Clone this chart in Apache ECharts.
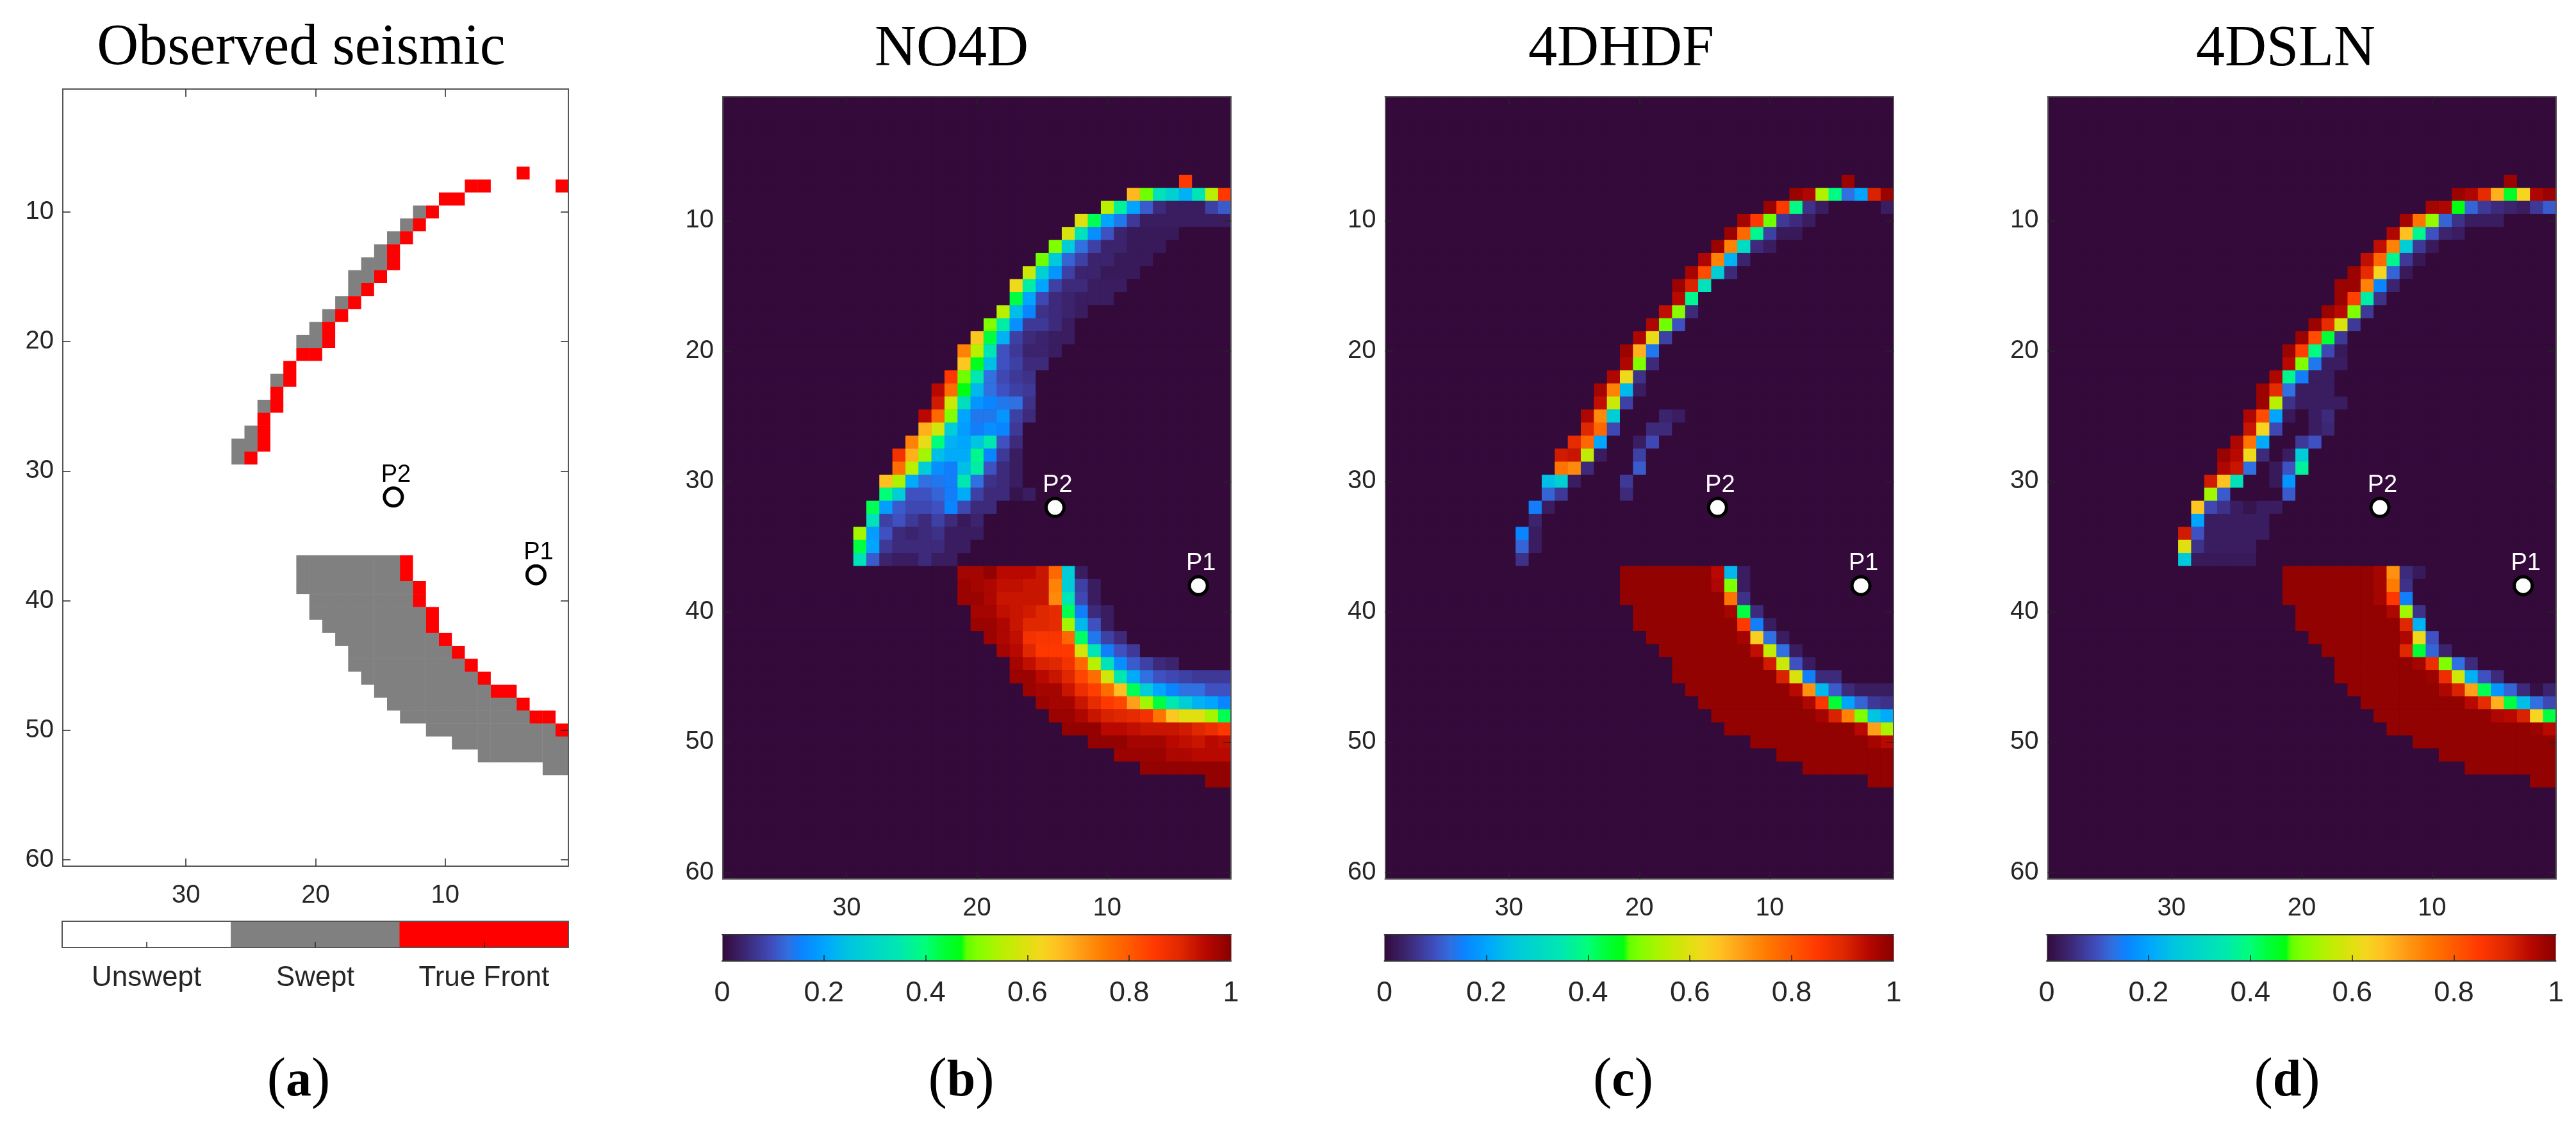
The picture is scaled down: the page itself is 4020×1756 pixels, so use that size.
<!DOCTYPE html>
<html><head><meta charset="utf-8">
<style>html,body{margin:0;padding:0;background:#fff}#c{width:4020px;height:1756px}</style>
<script src="https://cdn.jsdelivr.net/npm/echarts@6/dist/echarts.min.js"></script>
</head><body><div id="c"></div>
<script>
// Row format: [row, firstColumn (columns then count downward), ...cell values]
const observedRows = [
[7,4,2],[8,8,2,2],[8,1,2],[9,10,2,2],[10,12,1,2],[11,13,1,2],[12,14,1,2],[13,15,1,2],[14,16,1,1,2],[15,17,1,1,2],
[16,17,1,2],[17,18,1,2],[18,19,1,2],[19,20,1,2],[20,21,1,1,2],[21,21,2,2],[22,22,2],[23,23,1,2],[24,23,2],[25,24,1,2],
[26,24,2],[27,25,1,2],[28,26,1,1,2],[29,26,1,2],
[37,21,1,1,1,1,1,1,1,1,2],[38,21,1,1,1,1,1,1,1,1,2],[39,21,1,1,1,1,1,1,1,1,1,2],[40,20,1,1,1,1,1,1,1,1,2],
[41,20,1,1,1,1,1,1,1,1,1,2],[42,19,1,1,1,1,1,1,1,1,2],[43,18,1,1,1,1,1,1,1,1,2],[44,17,1,1,1,1,1,1,1,1,2],
[45,17,1,1,1,1,1,1,1,1,1,2],[46,16,1,1,1,1,1,1,1,1,1,2],[47,15,1,1,1,1,1,1,1,1,1,2,2],[48,14,1,1,1,1,1,1,1,1,1,1,2],
[49,13,1,1,1,1,1,1,1,1,1,1,2,2],[50,11,1,1,1,1,1,1,1,1,1,1,2],[51,9,1,1,1,1,1,1,1,1,1],[52,7,1,1,1,1,1,1,1],[53,2,1,1]
];
const no4dRows = [
[7,4,.85],[8,8,.67,.49,.33,.28,.22,.34,.55,.85],[9,10,.55,.37,.2,.11,.05,.03,.03,.03,.08,.11],
[10,12,.6,.42,.2,.14,.07,.03,.03,.03,.03,.03,.03,.03],[11,13,.59,.33,.17,.1,.04,.025,.025,.025,.025],
[12,14,.5,.27,.13,.08,.04,.04,.025,.025,.025],[13,15,.49,.26,.12,.08,.04,.04,.025,.025,.025],
[14,16,.57,.28,.18,.08,.04,.04,.025,.025,.025],[15,17,.62,.36,.2,.08,.05,.05,.03,.03,.03],
[16,17,.43,.2,.09,.05,.04,.03,.03,.03],[17,18,.55,.24,.16,.06,.05,.04,.03],[18,19,.5,.36,.17,.07,.07,.05,.03],
[19,20,.65,.43,.22,.08,.05,.04,.03,.03],[20,21,.74,.55,.34,.1,.07,.04,.04,.03],[21,21,.65,.46,.24,.1,.08,.05,.05],
[22,22,.85,.49,.35,.13,.09,.07,.06],[23,23,.95,.77,.47,.23,.13,.1,.08,.07],[24,23,.92,.57,.32,.18,.16,.14,.13,.06],
[25,24,.95,.78,.5,.2,.14,.14,.18,.08,.05],[26,24,.68,.58,.27,.19,.15,.17,.16,.07],
[27,25,.74,.61,.4,.22,.2,.25,.35,.1,.05],[28,26,.87,.68,.53,.24,.21,.21,.38,.16,.07,.03],
[29,26,.77,.55,.27,.17,.15,.24,.36,.1,.05,.03],[30,27,.66,.54,.21,.13,.14,.15,.35,.13,.06,.05,.03],
[31,27,.4,.27,.1,.1,.12,.15,.21,.08,.05,.05,.015,.03],[32,28,.42,.19,.11,.09,.09,.1,.16,.09,.05,.05],
[33,28,.33,.08,.1,.07,.05,.08,.05,.025,.04],[34,29,.53,.19,.1,.05,.04,.05,.06,.03,.03,.03],
[35,29,.43,.2,.07,.05,.05,.05,.05,.03,.03],[36,29,.33,.11,.04,.03,.03,.05,.03,.03],
[37,21,.97,.97,.99,.95,.95,.95,.93,.78,.27,.03],[38,21,.98,.97,.96,.94,.94,.93,.93,.74,.27,.08,.03],
[39,21,.98,.98,.96,.93,.93,.93,.93,.73,.34,.09,.03],[40,20,.97,.97,.94,.93,.92,.9,.89,.42,.15,.05,.03],
[41,20,.98,.98,.96,.93,.9,.9,.89,.53,.23,.1,.03],[42,19,.98,.96,.94,.87,.86,.86,.78,.41,.14,.08,.05],
[43,18,.97,.95,.9,.85,.85,.85,.58,.34,.15,.1,.07],[44,17,.97,.94,.91,.9,.87,.78,.55,.33,.17,.11,.08,.05,.04],
[45,17,.98,.98,.95,.93,.9,.83,.77,.58,.35,.21,.13,.1,.09,.08,.07,.07,.07],
[46,16,.98,.97,.97,.93,.88,.84,.77,.66,.42,.27,.2,.16,.13,.13,.1,.1],
[47,15,.98,.97,.97,.93,.89,.85,.83,.7,.53,.43,.35,.27,.22,.2,.16],
[48,14,.98,.98,.96,.93,.91,.9,.89,.87,.76,.65,.6,.6,.53,.42],
[49,13,.99,.99,.99,.95,.95,.94,.93,.93,.93,.92,.9,.88,.85],
[50,11,.99,.99,.99,.97,.97,.97,.95,.94,.93,.95,.94],[51,9,.98,.98,.98,.98,.96,.96,.95,.95,.95],
[52,7,.99,.99,.99,.99,.99,.99,.99],[53,2,.99,.99]
];
const hdfRows = [
[7,4,.98],[8,8,.98,.96,.54,.39,.13,.2,.91,.98],[9,10,.98,.85,.39,.06,.03],[9,1,.03],[10,12,.97,.85,.49,.07,.05,.03],
[11,13,.98,.78,.38,.08,.025,.025],[12,14,.98,.74,.31,.05,.03],[13,15,.96,.74,.22,.04],[14,16,.97,.82,.27,.05],
[15,17,.98,.91,.33],[16,17,.95,.38],[17,18,.94,.51,.05],[18,19,.96,.49,.1],[19,20,.96,.61,.08],[20,21,.98,.68,.14],
[21,21,.96,.5,.05],[22,22,.96,.62,.06],[23,23,.97,.74,.23,.03],[24,23,.94,.57,.08],[25,24,.96,.73,.27],[25,18,.04,.03],
[26,24,.9,.78,.09],[26,19,.05,.05],[27,25,.89,.78,.2],[27,20,.03,.09],[28,26,.92,.93,.56,.03],[28,20,.08],
[29,26,.76,.73,.05],[29,20,.11],[30,27,.24,.28,.03],[30,21,.07],[31,27,.12,.07],[31,21,.05],[32,28,.15,.03],[33,28,.04],
[34,29,.16,.03],[35,29,.12,.03],[36,29,.06],
[37,21,.99,.99,.99,.99,.99,.99,.99,.95,.23,.03],[38,21,.99,.99,.99,.99,.99,.99,.99,.96,.5,.03],
[39,21,.99,.99,.99,.99,.99,.99,.99,.99,.76,.06],[40,20,.99,.99,.99,.99,.99,.99,.99,.97,.43,.05],
[41,20,.99,.99,.99,.99,.99,.99,.99,.99,.85,.15,.03],[42,19,.99,.99,.99,.99,.99,.99,.99,.97,.64,.13,.03],
[43,18,.99,.99,.99,.99,.99,.99,.99,.94,.56,.13,.03],[44,17,.99,.99,.99,.99,.99,.99,.99,.92,.57,.1,.03],
[45,17,.99,.99,.99,.99,.99,.99,.99,.99,.91,.59,.15,.05,.05],
[46,16,.99,.99,.99,.99,.99,.99,.99,.99,.95,.72,.23,.11,.05,.03,.03,.03],
[47,15,.99,.99,.99,.99,.99,.99,.99,.99,.96,.86,.44,.2,.12,.07,.06],
[48,14,.99,.99,.99,.99,.99,.99,.99,.99,.97,.91,.74,.5,.25,.21],
[49,13,.99,.99,.99,.99,.99,.99,.99,.99,.99,.99,.95,.7,.54],
[50,11,.99,.99,.99,.99,.99,.99,.99,.99,.99,.97,.95],[51,9,.99,.99,.99,.99,.99,.99,.99,.99,.99],
[52,7,.99,.99,.99,.99,.99,.99,.99],[53,2,.99,.99]
];
const slnRows = [
[7,4,.98],[8,8,.98,.96,.89,.68,.45,.63,.96,.98],[9,10,.97,.96,.47,.12,.07,.05,.04,.03,.07,.11],
[10,12,.97,.76,.52,.12,.06,.03,.03,.03],[11,13,.96,.66,.38,.1,.04,.03],[12,14,.94,.74,.27,.07,.025],
[13,15,.94,.78,.38,.07,.02],[14,16,.98,.89,.63,.12,.025],[15,17,.98,.98,.74,.16,.04],[16,17,.98,.84,.36,.06],
[17,18,.98,.95,.5,.07],[18,19,.98,.89,.59,.07],[19,20,.98,.82,.44,.07],[20,21,.98,.84,.39,.09,.025],
[21,21,.95,.5,.14,.03,.03],[22,22,.96,.38,.15,.03,.03],[23,23,.98,.89,.13,.03,.03,.03],
[24,23,.98,.55,.06,.03,.03,.03,.03],[25,24,.96,.82,.2,.025],[25,19,.03,.05],[26,24,.93,.63,.09],[26,19,.03,.045],
[27,25,.96,.76,.21],[27,20,.07,.1],[28,26,.98,.95,.62,.05],[28,21,.03,.27],[29,26,.96,.93,.13],[29,22,.025,.1,.37],
[30,27,.92,.66,.33],[30,22,.025,.18],[31,27,.53,.11],[31,21,.11],[32,28,.65,.09,.06,.03,.015,.03,.03],
[33,28,.2,.03,.03,.03,.03,.03],[34,29,.92,.1,.03,.03,.03,.03,.03],[35,29,.6,.06,.03,.03,.03,.03],[36,29,.26,.025,.025,.025,.025,.025],
[37,21,.99,.99,.99,.99,.99,.99,.99,.97,.72,.05,.025],[38,21,.99,.99,.99,.99,.99,.99,.99,.97,.75,.06],
[39,21,.99,.99,.99,.99,.99,.99,.99,.97,.85,.15],[40,20,.99,.99,.99,.99,.99,.99,.99,.96,.53,.06],
[41,20,.99,.99,.99,.99,.99,.99,.99,.99,.9,.22],[42,19,.99,.99,.99,.99,.99,.99,.99,.96,.62,.1],
[43,18,.99,.99,.99,.99,.99,.99,.9,.44,.12,.04],[44,17,.99,.99,.99,.99,.99,.99,.97,.88,.5,.13,.05],
[45,17,.99,.99,.99,.99,.99,.99,.99,.98,.88,.58,.22,.1,.05],
[46,16,.99,.99,.99,.99,.99,.99,.99,.96,.91,.7,.42,.18,.12,.05,.01,.04],
[47,15,.99,.99,.99,.99,.99,.99,.99,.99,.95,.89,.68,.43,.24,.13,.09],
[48,14,.99,.99,.99,.99,.99,.99,.99,.99,.99,.96,.95,.91,.63,.43],
[49,13,.99,.99,.99,.99,.99,.99,.99,.99,.99,.99,.99,.98,.95],
[50,11,.99,.99,.99,.99,.99,.99,.99,.99,.99,.99,.99],[51,9,.99,.99,.99,.99,.99,.99,.99,.99,.99],
[52,7,.99,.99,.99,.99,.99,.99,.99],[53,2,.99,.99]
];
const xTickLabels = [10,20,30];
const yTickLabels = [10,20,30,40,50,60];
const colorbarTicks = [0,.2,.4,.6,.8,1];
const legendLabels = ['Unswept','Swept','True Front'];
const legendCodes = [0,1,2];
const pointNames = ['P1','P2'];
const pointCols = [3,14];
const pointRows = [38,32];
const panelTitles = ['Observed seismic','NO4D','4DHDF','4DSLN'];
const panelLetters = ['a','b','c','d'];

const NCOL = 39, NROW = 60;
const colCats = Array.from({length:NCOL},(_,i)=>String(i+1));
const rowCats = Array.from({length:NROW},(_,i)=>String(i+1));

const jetStops = [[0,'#330a3a'],[.05,'#3d2a7a'],[.1,'#3f50c0'],[.13,'#3070e0'],[.155,'#0a82ff'],[.2,'#00a5ff'],[.25,'#00c5e0'],
[.3,'#00d8c8'],[.35,'#00e8b0'],[.4,'#00ff78'],[.43,'#00ff40'],[.47,'#00ff10'],[.48,'#60ff00'],[.5,'#80ff00'],[.55,'#b8f000'],[.6,'#e0e010'],
[.63,'#f5d520'],[.66,'#ffc020'],[.7,'#ffa018'],[.75,'#ff7a00'],[.8,'#ff5a00'],[.85,'#ff3800'],[.9,'#e02800'],[.95,'#b80800'],[1,'#880000']];
function hex(c){return [1,3,5].map(i=>parseInt(c.substr(i,2),16));}
function rampColors(n){
  const out=[];
  for(let i=0;i<n;i++){const t=i/(n-1);let k=0;while(k<jetStops.length-2&&jetStops[k+1][0]<t)k++;
    const a=jetStops[k],b=jetStops[k+1],f=Math.min(1,Math.max(0,(t-a[0])/(b[0]-a[0])));
    const ca=hex(a[1]),cb=hex(b[1]);
    out.push('rgb('+ca.map((v,j)=>Math.round(v+(cb[j]-v)*f)).join(',')+')');}
  return out;
}
function toCells(rows){
  const m={};
  rows.forEach(r=>{for(let i=2;i<r.length;i++){m[(r[1]-(i-2))+'_'+r[0]]=r[i];}});
  const out=[];
  for(let c=1;c<=NCOL;c++)for(let r=1;r<=NROW;r++){out.push([c-1,r-1,m[c+'_'+r]||0]);}
  return out;
}

const TXT='#262626', FRAME='#565656', SERIF='"Liberation Serif", serif', SANS='"Liberation Sans", Arial, sans-serif';
const panels=[
 {l:98,r:887,t:139,b:1352,rows:observedRows,txt:'#000',bg:'#fff'},
 {l:1128,r:1921,t:151,b:1372,rows:no4dRows,txt:'#fff',bg:'#330a3a',cb:[1127,1921,1459,1500]},
 {l:2161.5,r:2955,t:151,b:1372,rows:hdfRows,txt:'#fff',bg:'#330a3a',cb:[2160.5,2955,1459,1500]},
 {l:3195.5,r:3988.5,t:151,b:1372,rows:slnRows,txt:'#fff',bg:'#330a3a',cb:[3194,3988.5,1459,1500]}
];
const titleX=[465,1480,2525,3562], titleTop=[26,28,28,28];
const capX=[461,1495,2528,3564];

const grid=[],xAxis=[],yAxis=[],series=[],visualMap=[],title=[];
const lineStyle={color:FRAME,width:2};
const keep10=(i,v)=>xTickLabels.includes(+v);
const keepY=(i,v)=>yTickLabels.includes(+v);
panels.forEach((p,k)=>{
  grid.push({show:true,backgroundColor:p.bg,borderWidth:0,left:p.l,top:p.t,width:p.r-p.l,height:p.b-p.t,containLabel:false});
  const base={type:'category',data:colCats,inverse:true,gridIndex:k,z:10,silent:true,axisLine:{show:true,lineStyle,onZero:false},
    splitLine:{show:false}};
  xAxis.push(Object.assign({},base,{position:'bottom',axisTick:{show:true,inside:true,length:12,alignWithLabel:true,interval:keep10,lineStyle:{color:TXT,width:1.5}},
    axisLabel:{show:true,interval:keep10,margin:26,fontSize:40,fontFamily:SANS,color:TXT}}));
  xAxis.push(Object.assign({},base,{position:'top',axisTick:{show:true,inside:true,length:12,alignWithLabel:true,interval:keep10,lineStyle:{color:TXT,width:1.5}},axisLabel:{show:false}}));
  const ybase={type:'category',data:rowCats,inverse:true,gridIndex:k,z:10,silent:true,axisLine:{show:true,lineStyle,onZero:false},splitLine:{show:false}};
  yAxis.push(Object.assign({},ybase,{position:'left',axisTick:{show:true,inside:true,length:12,alignWithLabel:true,interval:keepY,lineStyle:{color:TXT,width:1.5}},
    axisLabel:{show:true,interval:keepY,margin:14,fontSize:40,fontFamily:SANS,color:TXT}}));
  yAxis.push(Object.assign({},ybase,{position:'right',axisTick:{show:true,inside:true,length:12,alignWithLabel:true,interval:keepY,lineStyle:{color:TXT,width:1.5}},axisLabel:{show:false}}));
  series.push({type:'heatmap',name:panelTitles[k],xAxisIndex:2*k,yAxisIndex:2*k,data:toCells(p.rows),progressive:0,silent:true,animation:false,emphasis:{disabled:true}});
  series.push({type:'scatter',name:panelTitles[k]+' points',xAxisIndex:2*k,yAxisIndex:2*k,z:6,silent:true,symbol:'circle',symbolSize:28,
    itemStyle:{color:'#fff',borderColor:'#000',borderWidth:5,opacity:1},
    data:pointNames.map((n,i)=>({name:n,value:[pointCols[i]-1,pointRows[i]-1]})),
    label:{show:true,position:'top',distance:-1,offset:[4,0],formatter:'{b}',fontSize:38,fontFamily:SANS,color:p.txt}});
  title.push({text:panelTitles[k],left:titleX[k],top:titleTop[k],textAlign:'center',textStyle:{fontFamily:SERIF,fontSize:90,fontWeight:'normal',color:'#000'}});
  title.push({text:'{p|(}{b|'+panelLetters[k]+'}{p|)}',left:capX[k],top:1640,textAlign:'center',
    textStyle:{fontWeight:'normal',rich:{p:{fontFamily:SERIF,fontSize:88,fontWeight:'normal',color:'#000'},b:{fontFamily:SERIF,fontSize:80,fontWeight:'bold',color:'#000'}}}});
});
// panel (a) legend
const legendSeriesIdx=series.length;
{
  const g=grid.length;
  grid.push({left:97,top:1438,width:790,height:41,containLabel:false});
  xAxis.push({type:'category',data:legendLabels,gridIndex:g,position:'bottom',z:10,silent:true,axisLine:{show:true,lineStyle,onZero:false},
    axisTick:{show:true,inside:true,length:9,alignWithLabel:true,lineStyle:{color:TXT,width:1.5}},
    axisLabel:{show:true,interval:0,margin:26,fontSize:44,fontFamily:SANS,color:TXT}});
  xAxis.push({type:'category',data:legendLabels,gridIndex:g,position:'top',z:10,silent:true,axisLine:{show:true,lineStyle,onZero:false},axisTick:{show:false},axisLabel:{show:false}});
  yAxis.push({type:'category',data:['bar'],gridIndex:g,position:'left',z:10,silent:true,axisLine:{show:true,lineStyle,onZero:false},axisTick:{show:false},axisLabel:{show:false}});
  yAxis.push({type:'category',data:['bar'],gridIndex:g,position:'right',z:10,silent:true,axisLine:{show:true,lineStyle,onZero:false},axisTick:{show:false},axisLabel:{show:false}});
  series.push({type:'heatmap',name:'Legend',xAxisIndex:2*g,yAxisIndex:2*g,data:legendCodes.map((v,i)=>[i,0,v]),progressive:0,silent:true,animation:false,emphasis:{disabled:true}});
}
visualMap.push({type:'piecewise',show:false,seriesIndex:[0,legendSeriesIdx],dimension:2,
  pieces:[{value:0,color:'#ffffff'},{value:1,color:'#808080'},{value:2,color:'#ff0000'}]});
// panels (b)-(d) colorbars: continuous visualMap bars with their own value axes for ticks and labels
const ramp=rampColors(201);
panels.forEach((p,k)=>{
  if(!p.cb)return;
  const [l,r,t,b]=p.cb, g=grid.length;
  grid.push({left:l,top:t,width:r-l,height:b-t,containLabel:false});
  xAxis.push({type:'value',min:colorbarTicks[0],max:colorbarTicks[colorbarTicks.length-1],interval:colorbarTicks[1],gridIndex:g,position:'bottom',z:10,silent:true,
    axisLine:{show:true,lineStyle:{color:'#333',width:2},onZero:false},splitLine:{show:false},
    axisTick:{show:true,inside:true,length:9,customValues:colorbarTicks.slice(1,-1),lineStyle:{color:TXT,width:1.5}},
    axisLabel:{show:true,margin:28,fontSize:45,fontFamily:SANS,color:TXT,hideOverlap:false,showMinLabel:true,showMaxLabel:true}});
  xAxis.push({type:'value',min:0,max:1,gridIndex:g,position:'top',z:10,silent:true,axisLine:{show:true,lineStyle:{color:'#333',width:2},onZero:false},splitLine:{show:false},axisTick:{show:false},axisLabel:{show:false}});
  yAxis.push({type:'category',data:['bar'],gridIndex:g,position:'left',z:10,silent:true,axisLine:{show:true,lineStyle:{color:'#888',width:1},onZero:false},axisTick:{show:false},axisLabel:{show:false}});
  yAxis.push({type:'category',data:['bar'],gridIndex:g,position:'right',z:10,silent:true,axisLine:{show:true,lineStyle:{color:'#888',width:1},onZero:false},axisTick:{show:false},axisLabel:{show:false}});
  visualMap.push({type:'continuous',min:0,max:1,seriesIndex:2*k,dimension:2,orient:'horizontal',left:l,top:t,padding:0,
    itemWidth:b-t,itemHeight:r-l,calculable:false,realtime:false,hoverLink:false,text:null,showLabel:false,z:4,inRange:{color:ramp}});
});
const chart=echarts.init(document.getElementById('c'),null,{renderer:'canvas',width:4020,height:1756});
chart.setOption({animation:false,backgroundColor:'#fff',title,grid,xAxis,yAxis,visualMap,series,tooltip:{show:false}});
</script></body></html>
